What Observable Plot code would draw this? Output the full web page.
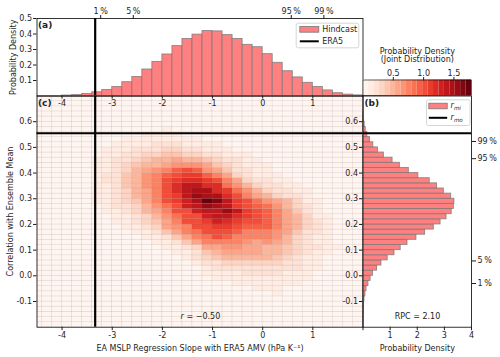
<!DOCTYPE html>
<html>
<head>
<meta charset="utf-8">
<script src="https://cdn.jsdelivr.net/npm/d3@7"></script>
<script src="https://cdn.jsdelivr.net/npm/@observablehq/plot@0.6"></script>
<style>
html,body{margin:0;padding:0;background:#fff;}
#wrap{position:relative;width:500px;height:357px;overflow:hidden;background:#fff;}
#wrap > svg{position:absolute;left:0;top:0;}
</style>
</head>
<body>
<div id="wrap"></div>
<script>
// ---------------- data ----------------
// (a) marginal histogram of the regression slope (bin lower edges, width 0.2)
const xHistLeft = [-4.0,-3.8,-3.6,-3.4,-3.2,-3.0,-2.8,-2.6,-2.4,-2.2,-2.0,-1.8,-1.6,-1.4,-1.2,-1.0,-0.8,-0.6,-0.4,-0.2,0.0,0.2,0.4,0.6,0.8,1.0,1.2,1.4,1.6,1.8];
const xHistDensity = [0.003,0.006,0.013,0.024,0.039,0.058,0.089,0.123,0.171,0.22,0.268,0.322,0.368,0.396,0.419,0.417,0.393,0.368,0.33,0.315,0.27,0.214,0.16,0.12,0.085,0.058,0.036,0.018,0.009,0.004];
const xHistWidth = 0.2;
// (b) marginal histogram of the correlation (bin lower edges, width 0.02)
const yHistLow = [-0.20,-0.18,-0.16,-0.14,-0.12,-0.10,-0.08,-0.06,-0.04,-0.02,0.00,0.02,0.04,0.06,0.08,0.10,0.12,0.14,0.16,0.18,0.20,0.22,0.24,0.26,0.28,0.30,0.32,0.34,0.36,0.38,0.40,0.42,0.44,0.46,0.48,0.50,0.52,0.54,0.56,0.58,0.60,0.62];
const yHistDensity = [0.005,0.01,0.02,0.03,0.04,0.055,0.09,0.13,0.20,0.28,0.37,0.52,0.68,0.91,1.16,1.39,1.64,1.97,2.29,2.61,2.86,3.08,3.27,3.35,3.37,3.25,2.98,2.73,2.46,2.04,1.69,1.36,1.09,0.77,0.55,0.38,0.26,0.16,0.10,0.06,0.03,0.01];
const yHistWidth = 0.02;
// (c) joint density: columns = x bin lower edges, rows = y bin lower edges,
// each character = density in units of 0.05 (base-36 digit)
const jointColX = [-3.8,-3.6,-3.4,-3.2,-3.0,-2.8,-2.6,-2.4,-2.2,-2.0,-1.8,-1.6,-1.4,-1.2,-1.0,-0.8,-0.6,-0.4,-0.2,0.0,0.2,0.4,0.6,0.8,1.0,1.2,1.4,1.6,1.8];
const jointRowY = [0.62,0.60,0.58,0.56,0.54,0.52,0.50,0.48,0.46,0.44,0.42,0.40,0.38,0.36,0.34,0.32,0.30,0.28,0.26,0.24,0.22,0.20,0.18,0.16,0.14,0.12,0.10,0.08,0.06,0.04,0.02,0.00,-0.02,-0.04,-0.06,-0.08,-0.10,-0.12,-0.14,-0.16,-0.18];
const jointRows = [
"00000000100000000000000000000",
"00000001010100000000000000000",
"00000010111010100000000000000",
"00000111121110100000000000000",
"00011112222111100000000000000",
"00111222333221111000000000000",
"00112233444332211110000000000",
"01122345566543321110000000000",
"01123456788765432211100000000",
"112345789aba98654321100000000",
"01235689acdedb865322110000000",
"1123579bdgikiec85432110000000",
"012458adfilmmjfb7532210000000",
"112458adgknoomkfb754321100000",
"012358adgkprrpohd975432110000",
"1123579bgkpsttomhda7543211000",
"1123579bflnsvuupkfca754211000",
"0123568bfkmquzxsnkheb96321100",
"1112457adhlqswtrnljhda7421100",
"01123469cfklqrrvrmljfb8521100",
"00112357aehllqrrpmkjfc9632110",
"001123468cfkknqpmlkjgc9642110",
"000112346bdgklmmliiifc9742110",
"0000112358cfhklligggeb8542110",
"00000112358cfhkigfffda7532110",
"000000112358cffffdbdc96532110",
"0000000112357bcddbba987543211",
"00000000012358abbbba986432110",
"00000000001246899999865321100",
"00000000000124567777654321100",
"00000000000113445555544321010",
"00000000000012233444433211001",
"00000000000001222333332211000",
"00000000000000112222222111000",
"00000000000000011122211111000",
"00000000000000001111211110000",
"00000000000000000111111010000",
"00000000000000000011010100000",
"00000000000000000001101000000",
"00000000000000000000100100000",
"00000000000000000000010000000"
];
const jointUnit = 0.05;
const cellW = 0.2, cellH = 0.02;
const gridX0 = -4.6, gridNX = 33, gridY0 = -0.2, gridNY = 45;

const era5X = -3.34;   // ERA5 slope
const era5Y = 0.555;   // r_mo
const pctX = [-3.23, -2.58, 0.57, 1.22];
const pctXLabel = ["1\u2009%", "5\u2009%", "95\u2009%", "99\u2009%"];
const pctY = [0.523, 0.456, 0.058, -0.03];
const pctYLabel = ["99\u2009%", "95\u2009%", "5\u2009%", "1\u2009%"];
const xTicks = [-4,-3,-2,-1,0,1];
const yTicks = [-0.1,0,0.1,0.2,0.3,0.4,0.5,0.6];
const aTicks = [0.1,0.2,0.3,0.4,0.5];
const bTicks = [0,1,2,3,4];
const cbTicks = [0.5,1.0,1.5];
const cbMax = 1.79, cbBands = 20;
const rText = "= \u22120.50";
const rpcText = "RPC = 2.10";
const xLabel = "EA MSLP Regression Slope with ERA5 AMV (hPa K\u207B\u00B9)";
const yLabel = "Correlation with Ensemble Mean";
const densLabel = "Probability Density";
const cbTitle1 = "Probability Density", cbTitle2 = "(Joint Distribution)";

// ---------------- derived tables ----------------
const xh = xHistLeft.map((x, i) => ({x1: x, x2: +(x + xHistWidth).toFixed(2), d: xHistDensity[i]}));
const yh = yHistLow.map((y, i) => ({y1: y, y2: +(y + yHistWidth).toFixed(3), d: yHistDensity[i]}));
const jointMap = new Map();
jointRows.forEach((row, r) => {
  if (row.length !== jointColX.length) console.error("row length", r, row.length);
  for (let c = 0; c < row.length; c++) {
    jointMap.set(jointColX[c].toFixed(1) + "|" + jointRowY[r].toFixed(2), parseInt(row[c], 36) * jointUnit);
  }
});
const cells = [];
for (let i = 0; i < gridNX; i++) {
  const x1 = +(gridX0 + i * cellW).toFixed(2);
  for (let j = 0; j < gridNY; j++) {
    const y1 = +(gridY0 + j * cellH).toFixed(3);
    const v = jointMap.get(x1.toFixed(1) + "|" + y1.toFixed(2)) || 0;
    cells.push({x1, x2: +(x1 + cellW).toFixed(2), y1, y2: +(y1 + cellH).toFixed(3), v});
  }
}
const bands = d3.range(cbBands).map(i => ({x1: i * cbMax / cbBands, x2: (i + 1) * cbMax / cbBands, v: (i + 0.5) * cbMax / cbBands}));
const colorOpts = {type: "threshold", domain: d3.range(1, cbBands).map(i => i * cbMax / cbBands), range: d3.quantize(d3.interpolateReds, cbBands)};

// ---------------- layout ----------------
const W = 500, H = 357;
const P = {L: 36.5, M: 362.5, R: 471, T: 18, A: 95.5, B: 326.7, CT: 79.5, CB: 95};
const style = {fontFamily: '"DejaVu Sans", sans-serif', fontSize: "8px", background: "transparent", overflow: "visible", color: "#1e1e1e"};
const margins = f => ({marginLeft: f.l, marginRight: W - f.r, marginTop: f.t, marginBottom: H - f.b});
const txtAt = f => (s, x, y, o = {}) => Plot.text([s], {text: d => d, frameAnchor: "top-left", dx: x - f.l, dy: y - f.t, lineAnchor: "middle", textAnchor: "start", ...o});
const boxAt = f => (l, t, r, b, o = {}) => Plot.frame({insetLeft: l - f.l, insetTop: t - f.t, insetRight: f.r - r, insetBottom: f.b - b, ...o});
const fmtX = d => (d < 0 ? "-" : "") + Math.abs(d);
const fmtY = d => (d < -1e-9 ? "-" : "") + Math.abs(d).toFixed(1);
const histFill = "#ff8080", histEdge = "#777777";

// (c) joint distribution
const fC = {l: P.L, r: P.M, t: P.A, b: P.B};
const tC = txtAt(fC);
const pc = Plot.plot({
  width: W, height: H, ...margins(fC), style,
  x: {domain: [-4.5, 2]}, y: {domain: [-0.2, 0.7]}, color: colorOpts,
  marks: [
    Plot.rect(cells, {x1: "x1", x2: "x2", y1: "y1", y2: "y2", fill: "v", stroke: "#806060", strokeOpacity: 0.16, strokeWidth: 0.6, clip: true}),
    Plot.ruleX([era5X], {stroke: "#000", strokeWidth: 2.2}),
    Plot.ruleY([era5Y], {stroke: "#000", strokeWidth: 2.2}),
    Plot.frame({stroke: "#000", strokeWidth: 0.8}),
    Plot.axisX({ticks: xTicks, tickFormat: fmtX, tickSize: 3.5, tickPadding: 1.5, label: null}),
    Plot.axisY({ticks: yTicks, tickFormat: fmtY, tickSize: 3.5, tickPadding: 1.5, label: null}),
    tC("(c)", 37.5, 102.5, {fontWeight: "bold", fontSize: 9}),
    tC("r", 180, 316, {fontStyle: "italic"}),
    tC(rText, 186, 316),
    tC(xLabel, 199.5, 348, {textAnchor: "middle"}),
    tC(yLabel, 9.5, 211, {textAnchor: "middle", rotate: -90})
  ]
});

// (a) slope marginal
const fA = {l: P.L, r: P.M, t: P.T, b: P.A};
const tA = txtAt(fA), bA = boxAt(fA);
const pa = Plot.plot({
  width: W, height: H, ...margins(fA), style,
  x: {domain: [-4.5, 2]}, y: {domain: [0, 0.5]},
  marks: [
    Plot.rect(xh, {x1: "x1", x2: "x2", y1: d => 0, y2: "d", fill: histFill, stroke: histEdge, strokeOpacity: 0.8, strokeWidth: 0.9}),
    Plot.ruleX([era5X], {stroke: "#000", strokeWidth: 2.2}),
    Plot.frame({stroke: "#000", strokeWidth: 0.8}),
    Plot.axisY({ticks: aTicks, tickFormat: fmtY, tickSize: 3.5, tickPadding: 1.5, label: null}),
    Plot.axisX({anchor: "bottom", ticks: xTicks, tickFormat: fmtX, tickSize: 3, tickPadding: 1.5, label: null}),
    Plot.axisX({anchor: "top", ticks: pctX, tickFormat: d => pctXLabel[pctX.indexOf(d)], tickSize: 4, tickPadding: 0.5, label: null}),
    bA(295.7, 22.7, 358.3, 47.3, {fill: "#fff", fillOpacity: 0.85, stroke: "#cccccc", strokeWidth: 0.8, rx: 2}),
    bA(299.3, 26, 318.3, 31.7, {fill: histFill, stroke: histEdge, strokeWidth: 0.8}),
    bA(299.3, 39.8, 318.3, 41.8, {fill: "#000", stroke: "none"}),
    tA("Hindcast", 321.7, 28.9),
    tA("ERA5", 321.7, 40.8),
    tA("(a)", 37.5, 25, {fontWeight: "bold", fontSize: 9}),
    tA(densLabel, 12.5, 56.75, {textAnchor: "middle", rotate: -90})
  ]
});

// (b) correlation marginal
const fB = {l: P.M, r: P.R, t: P.A, b: P.B};
const tB = txtAt(fB), bB = boxAt(fB);
const pb = Plot.plot({
  width: W, height: H, ...margins(fB), style,
  x: {domain: [0, 4]}, y: {domain: [-0.2, 0.7]},
  marks: [
    Plot.rect(yh, {x1: d => 0, x2: "d", y1: "y1", y2: "y2", fill: histFill, stroke: histEdge, strokeOpacity: 0.8, strokeWidth: 0.9}),
    Plot.ruleY([era5Y], {stroke: "#000", strokeWidth: 2.2}),
    Plot.frame({stroke: "#000", strokeWidth: 0.8}),
    Plot.axisY({anchor: "left", ticks: yTicks, tickFormat: fmtY, tickSize: 3.5, tickPadding: 1.5, label: null}),
    Plot.axisY({anchor: "right", ticks: pctY, tickFormat: d => pctYLabel[pctY.indexOf(d)], tickSize: 4, tickPadding: 2, label: null}),
    Plot.axisX({ticks: bTicks, tickFormat: d => d === 0 ? "" : String(d), tickSize: 3.5, tickPadding: 1.5, label: null}),
    bB(426, 99.3, 469.5, 125, {fill: "#fff", fillOpacity: 0.85, stroke: "#cccccc", strokeWidth: 0.8, rx: 2}),
    bB(428.3, 102.7, 446.7, 108.3, {fill: histFill, stroke: histEdge, strokeWidth: 0.8}),
    bB(428.3, 116.3, 446.7, 118.3, {fill: "#000", stroke: "none"}),
    tB("r", 450, 105.3, {fontStyle: "italic"}),
    tB("mi", 453.4, 107.4, {fontStyle: "italic", fontSize: 5.6}),
    tB("r", 450, 117.3, {fontStyle: "italic"}),
    tB("mo", 453.4, 119.4, {fontStyle: "italic", fontSize: 5.6}),
    tB("(b)", 364, 102.5, {fontWeight: "bold", fontSize: 9}),
    tB(rpcText, 417, 316, {textAnchor: "middle"}),
    tB(densLabel, 416.75, 347.5, {textAnchor: "middle"})
  ]
});

// colour bar
const fCB = {l: P.M, r: P.R, t: P.CT, b: P.CB};
const tCB = txtAt(fCB);
const pcb = Plot.plot({
  width: W, height: H, ...margins(fCB), style,
  x: {domain: [0, cbMax]}, color: colorOpts,
  marks: [
    Plot.rect(bands, {x1: "x1", x2: "x2", fill: "v"}),
    Plot.frame({stroke: "#000", strokeWidth: 0.6}),
    Plot.axisX({anchor: "top", ticks: cbTicks, tickFormat: d => d.toFixed(1), tickSize: 3.5, tickPadding: 0.5, label: null}),
    tCB(cbTitle1, 416.75, 51, {textAnchor: "middle"}),
    tCB(cbTitle2, 416.75, 59.3, {textAnchor: "middle"})
  ]
});
const wrap = document.getElementById("wrap");
[pc, pa, pb, pcb].forEach(s => wrap.appendChild(s));
</script>
</body>
</html>
